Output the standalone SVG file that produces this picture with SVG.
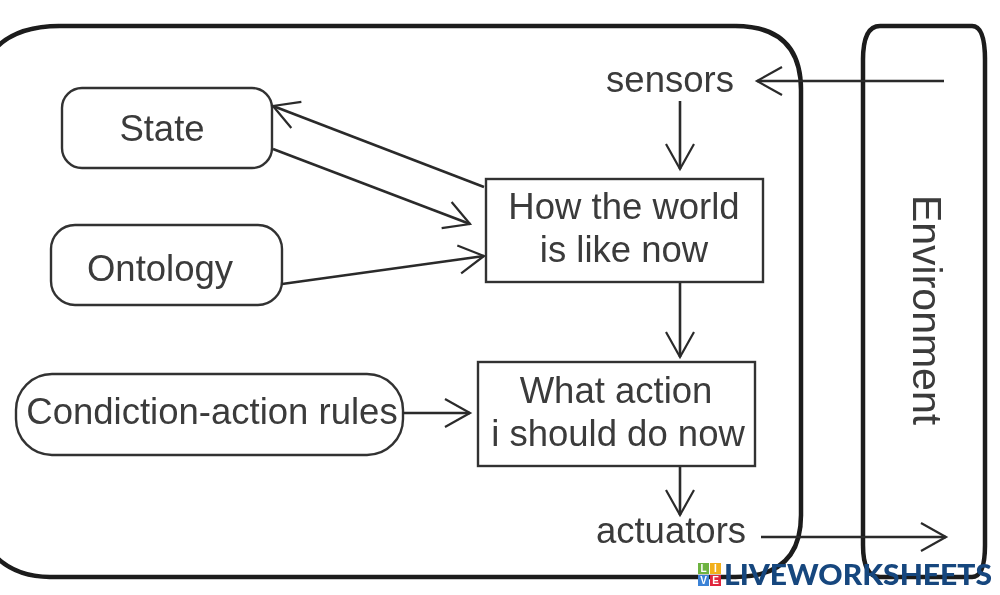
<svg xmlns="http://www.w3.org/2000/svg" width="1000" height="595" viewBox="0 0 1000 595">
<defs>
<marker id="a" markerUnits="userSpaceOnUse" markerWidth="32" markerHeight="36" refX="28" refY="18" orient="auto"><path d="M3 4L28 18L3 32" fill="none" stroke="#2a2a2a" stroke-width="2.2"/></marker>
<filter id="b" x="-2%" y="-2%" width="104%" height="104%"><feGaussianBlur stdDeviation="0.6"/></filter>
</defs>
<style>
text{font-family:"Liberation Sans",Arial,sans-serif;font-size:36.5px;fill:#3a3a3a;text-anchor:middle}
.n{fill:#fff;stroke:#333;stroke-width:2.4}
.c{fill:none;stroke:#2a2a2a;stroke-width:2.6;marker-end:url(#a)}
.o{fill:none;stroke:#1a1a1a;stroke-width:4.5}
.t{font-size:10px;font-weight:700;fill:#fff}
.w{font-family:Lato,"Liberation Sans",sans-serif;font-size:29px;font-weight:900;fill:#17467e;text-anchor:start}
</style>
<rect width="1000" height="595" fill="#fff"/>
<g filter="url(#b)">
<g id="agent"><path class="o" d="M-6 50Q15 26 60 26H735Q801 26 801 90V515Q801 577 735 577H50Q15 577 -6 555"/></g>
<g id="environment"><path class="o" d="M880 26H972Q985 26 985 60V545Q985 577 972 577H880Q863 577 863 545V60Q863 26 880 26Z"/><text style="font-size:41px" transform="translate(913 310) rotate(90)">Environment</text></g>
<g id="sensors"><text x="670" y="92">sensors</text></g>
<g id="actuators"><text x="671" y="543">actuators</text></g>
<g id="state"><rect class="n" x="62" y="88" width="210" height="80" rx="20"/><text x="162" y="141">State</text></g>
<g id="ontology"><rect class="n" x="51" y="225" width="231" height="80" rx="24"/><text x="160" y="281">Ontology</text></g>
<g id="rules"><rect class="n" x="16" y="374" width="387" height="81" rx="36"/><text x="212" y="424">Condiction-action rules</text></g>
<g id="world"><rect class="n" x="486" y="179" width="277" height="103"/><text x="624" y="219">How the world</text><text x="624" y="262">is like now</text></g>
<g id="action"><rect class="n" x="478" y="362" width="277" height="104"/><text x="616" y="403">What action</text><text x="618" y="446">i should do now</text></g>
<g id="connectors">
<path class="c" d="M944 81H757"/>
<path class="c" d="M680 101V169"/>
<path class="c" d="M484 187L273 106"/>
<path class="c" d="M273 149L470 224"/>
<path class="c" d="M282 284L484 256"/>
<path class="c" d="M680 283V357"/>
<path class="c" d="M403 413H470"/>
<path class="c" d="M680 467V515"/>
<path class="c" d="M761 537H946"/>
</g>
<g id="watermark">
<rect x="698" y="563" width="11" height="11" fill="#6db33f"/><rect x="710" y="563" width="11" height="11" fill="#f2b01e"/><rect x="698" y="575" width="11" height="11" fill="#3b82d6"/><rect x="710" y="575" width="11" height="11" fill="#e0263c"/>
<text class="t" x="703.500" y="572">L</text><text class="t" x="715.500" y="572">I</text><text class="t" x="703.500" y="584">V</text><text class="t" x="715.500" y="584">E</text>
<text class="w" x="724" y="585" textLength="268" lengthAdjust="spacingAndGlyphs">LIVEWORKSHEETS</text>
</g>
</g>
</svg>
